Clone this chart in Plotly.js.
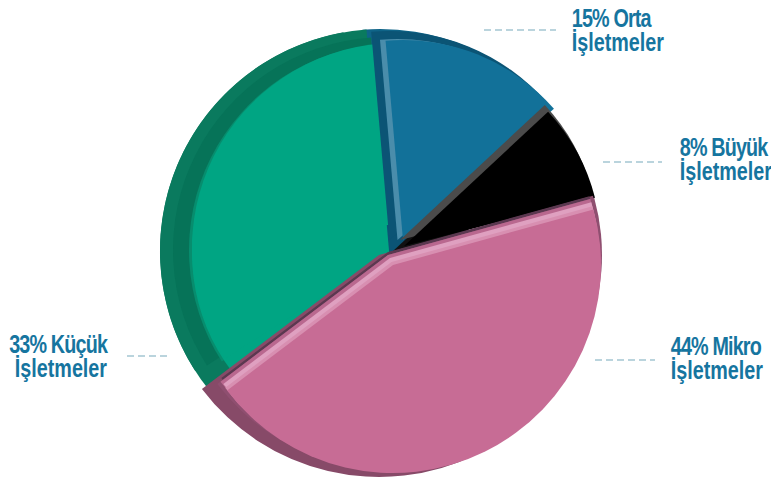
<!DOCTYPE html>
<html><head><meta charset="utf-8">
<script src="https://cdn.plot.ly/plotly-3.0.1.min.js"></script>
<style>html,body{margin:0;padding:0;background:#fff}#c{width:771px;height:479px}</style>
</head><body><div id="c"></div>
<script>
const categories = ['Orta İşletmeler','Büyük İşletmeler','Mikro İşletmeler','Küçük İşletmeler'];
const shares = [15, 8, 44, 33];
const labelTexts = ['15% Orta<br>İşletmeler','8% Büyük<br>İşletmeler','44% Mikro<br>İşletmeler','33% Küçük<br>İşletmeler'];
const W = 771, H = 479;

function dom(cx, cy, r){ return {x:[(cx-r)/W,(cx+r)/W], y:[1-(cy+r)/H,1-(cy-r)/H]}; }
function wedge(i, color, cx, cy, r, rot){
  return {type:'pie', labels:categories, values:shares, sort:false, direction:'clockwise', rotation:rot,
    textinfo:'none', hoverinfo:'label+percent', showlegend:false,
    marker:{colors:shares.map((_,k)=> k===i ? color : 'rgba(0,0,0,0)'), line:{width:0}}, domain:dom(cx,cy,r)};
}
const ORTA=0, BUYUK=1, MIKRO=2, KUCUK=3;
const traces = [
  // Orta: rim
  wedge(ORTA, '#0f6488', 380, 253, 224, -4.5),
  // Küçük: rim, shoulder, face
  wedge(KUCUK, '#0a7a5e', 382, 251, 222, -4),
  wedge(KUCUK, '#0a7a5e', 382, 251, 222, -10),
  wedge(KUCUK, '#067358', 386, 250, 213, -4),
  wedge(KUCUK, '#078d6e', 395, 250, 206, -4),
  wedge(KUCUK, '#00a583', 388, 253, 196, -8.3),
  wedge(KUCUK, '#00a583', 397, 248, 205, -4),
  // Orta: side strips and face
  wedge(ORTA, '#0b5475', 389.4, 255, 30, -5),
  wedge(ORTA, '#0b5475', 389.4, 240, 209, -5),
  wedge(ORTA, '#4a8dab', 397.5, 240, 201, -5),
  wedge(ORTA, '#127199', 403, 240, 200, -5),
  // Büyük: side strip and face
  wedge(BUYUK, '#111111', 392, 252, 80, -7),
  wedge(BUYUK, '#4b4b4b', 400, 240, 198, -7),
  wedge(BUYUK, '#000000', 404, 246, 197, -7),
  // Mikro: rim, side strips and face
  wedge(MIKRO, '#874a68', 379, 255, 222, -8.3),
  wedge(MIKRO, '#5b3850', 388, 252, 209, -8.3),
  wedge(MIKRO, '#8f4f70', 388, 255, 214, -8.3),
  wedge(MIKRO, '#b9688f', 388, 255, 210, -8.3),
  wedge(MIKRO, '#dfa0c0', 390, 258, 209, -8.3),
  wedge(MIKRO, '#d88fb1', 391.5, 262, 208.5, -8.3),
  wedge(MIKRO, '#c76c95', 393, 265, 208, -8.3)
];
const ink = '#16759f';
const font = {family:'"Liberation Sans",sans-serif', size:26, color:ink, weight:700};
const SQUEEZE = 0.76, LINE_GAP = 24, TIGHTEN = '-1.1px';
// [x, first baseline, side]
const anchors = [[571,28,'left'],[679,157,'left'],[670,356,'left'],[108,354,'right']];
const annotations = labelTexts.map((t,i)=>({text:t, xref:'paper', yref:'paper',
  x:anchors[i][0]/W, y:1-(anchors[i][1]-26)/H, xanchor:anchors[i][2], yanchor:'top', align:anchors[i][2],
  showarrow:false, font:font, borderpad:0}));
const leaders = [[484,30,556,30],[603,162,662,162],[595,360,655,360],[127,356,167,356]];
const shapes = leaders.map(l=>({type:'line', xref:'paper', yref:'paper', x0:l[0]/W, x1:l[2]/W, y0:1-l[1]/H, y1:1-l[3]/H,
  line:{color:'#a4c6d2', width:1.4, dash:'7px 4px'}}));
Plotly.newPlot('c', traces, {width:W, height:H, margin:{l:0,r:0,t:0,b:0}, paper_bgcolor:'#fff',
  showlegend:false, annotations, shapes}, {displayModeBar:false, staticPlot:true}).then(gd=>{
  // The labels are set in a condensed face: narrow each one about its own anchor and close up its lines.
  gd.querySelectorAll('g.annotation').forEach((g,k)=>{
    const ax = anchors[k][0];
    g.setAttribute('transform','translate('+ax+',0) scale('+SQUEEZE+',1) translate('+(-ax)+',0)');
    const lines = g.querySelectorAll('tspan.line');
    if (lines[0]) lines[0].style.letterSpacing = TIGHTEN;
    if (lines[1]) {
      lines[1].removeAttribute('y');
      lines[1].setAttribute('dy', LINE_GAP + 'px');
      const base = parseFloat(lines[0].getAttribute('y'));
      if (!isNaN(base)) { lines[1].setAttribute('y', base + LINE_GAP); lines[1].setAttribute('dy', '0'); }
    }
  });
});
</script></body></html>
